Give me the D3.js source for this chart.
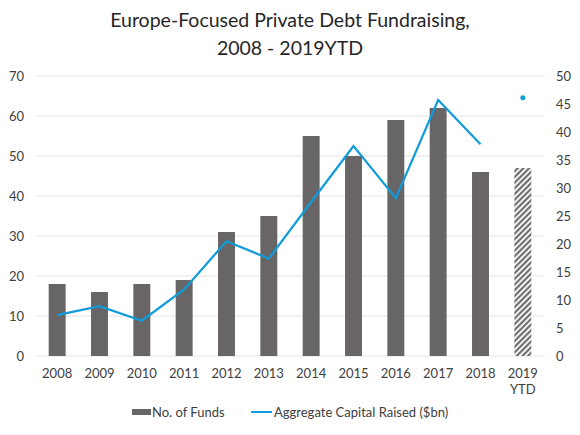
<!DOCTYPE html>
<html><head><meta charset="utf-8">
<script src="https://cdn.jsdelivr.net/npm/d3@7"></script>
<style>body{margin:0;background:#fff;} text{font-family:Lato,"Open Sans",sans-serif;}</style>
</head><body><svg id="c" width="580" height="435"></svg>
<script>
const categories = ["2008","2009","2010","2011","2012","2013","2014","2015","2016","2017","2018","2019 YTD"];
const fundCounts = [18,16,18,19,31,35,55,50,59,62,46,47];
const capitalRaised = [7.3,8.9,6.3,11.9,20.5,17.4,27.5,37.5,28.2,45.7,37.8,46.1];
const leftTicks = [0,10,20,30,40,50,60,70];
const rightTicks = [0,5,10,15,20,25,30,35,40,45,50];
const titleLines = ["Europe-Focused Private Debt Fundraising,","2008 - 2019YTD"];
const legendLabels = ["No. of Funds","Aggregate Capital Raised ($bn)"];

const svg = d3.select("#c");
const m = {l:36, r:544, t:76, b:356};
const x = d3.scaleBand().domain(categories).range([m.l, m.r]).paddingInner(0.6).paddingOuter(0.3);
const yL = d3.scaleLinear().domain([0,70]).range([m.b, m.t]);
const yR = d3.scaleLinear().domain([0,50]).range([m.b, m.t]);
const txt = "#404040";
const fs = 13;

const defs = svg.append("defs");
const pat = defs.append("pattern").attr("id","hatch").attr("patternUnits","userSpaceOnUse")
  .attr("width",4).attr("height",4).attr("patternTransform","rotate(45)");
pat.append("rect").attr("width",4).attr("height",4).attr("fill","#ffffff");
pat.append("rect").attr("width",2.2).attr("height",4).attr("fill","#6e6e6e");

// title
svg.append("g").selectAll("text").data(titleLines).join("text")
  .attr("x",290).attr("y",(d,i)=>27+i*28).attr("text-anchor","middle")
  .attr("font-size",19.5).attr("fill","#262626").text(d=>d);

// gridlines
svg.append("g").selectAll("line").data(leftTicks).join("line")
  .attr("x1",m.l).attr("x2",m.r).attr("y1",d=>yL(d)).attr("y2",d=>yL(d))
  .attr("stroke","#e3e3e3").attr("stroke-width",1);

// left axis labels
svg.append("g").selectAll("text").data(leftTicks).join("text")
  .attr("x",24).attr("y",d=>yL(d)+4.5).attr("text-anchor","end")
  .attr("font-size",fs).attr("fill",txt).text(d=>d);
// right axis labels
svg.append("g").selectAll("text").data(rightTicks).join("text")
  .attr("x",556).attr("y",d=>yR(d)+4.5).attr("text-anchor","start")
  .attr("font-size",fs).attr("fill",txt).text(d=>d);

// bars
svg.append("g").selectAll("rect").data(categories).join("rect")
  .attr("x",d=>x(d)).attr("width",x.bandwidth())
  .attr("y",(d,i)=>yL(fundCounts[i])).attr("height",(d,i)=>yL(0)-yL(fundCounts[i]))
  .attr("fill",(d,i)=>i===categories.length-1?"url(#hatch)":"#676565");

// x labels
const xl = svg.append("g").selectAll("text").data(categories).join("text")
  .attr("x",d=>x(d)+x.bandwidth()/2).attr("y",378).attr("text-anchor","middle")
  .attr("font-size",fs).attr("fill",txt);
xl.each(function(d){
  const parts = d.split(" ");
  d3.select(this).selectAll("tspan").data(parts).join("tspan")
    .attr("x",x(d)+x.bandwidth()/2).attr("dy",(p,i)=>i===0?0:16).text(p=>p);
});

// line
const cx = d => x(d)+x.bandwidth()/2;
const lineData = categories.slice(0,categories.length-1).map((c,i)=>[cx(c), yR(capitalRaised[i])]);
svg.append("path").attr("d",d3.line()(lineData)).attr("fill","none")
  .attr("stroke","#0f9bdc").attr("stroke-width",2.2).attr("stroke-linejoin","miter");
const last = categories.length-1;
svg.append("circle").attr("cx",cx(categories[last])).attr("cy",yR(capitalRaised[last]))
  .attr("r",2.5).attr("fill","#0f9bdc");

// legend
const lg = svg.append("g");
lg.append("rect").attr("x",132).attr("y",409).attr("width",19).attr("height",6).attr("fill","#676565");
lg.append("text").attr("x",152).attr("y",417).attr("font-size",fs).attr("fill",txt).text(legendLabels[0]);
lg.append("line").attr("x1",251).attr("x2",272).attr("y1",412).attr("y2",412).attr("stroke","#0f9bdc").attr("stroke-width",2);
lg.append("text").attr("x",274).attr("y",417).attr("font-size",fs).attr("fill",txt).text(legendLabels[1]);
</script></body></html>
